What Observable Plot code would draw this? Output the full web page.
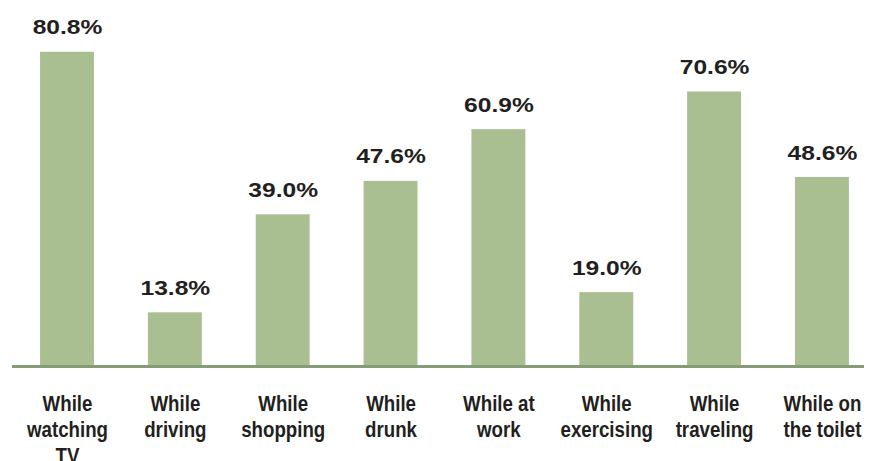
<!DOCTYPE html>
<html><head><meta charset="utf-8">
<script src="https://cdn.jsdelivr.net/npm/d3@7"></script>
<script src="https://cdn.jsdelivr.net/npm/@observablehq/plot@0.6"></script>
<style>body{margin:0;background:#fff;} svg{display:block;}</style>
</head><body><div id="chart"></div>
<script>
const categories = ["While\nwatching\nTV","While\ndriving","While\nshopping","While\ndrunk","While at\nwork","While\nexercising","While\ntraveling","While on\nthe toilet"];
const values = [80.8, 13.8, 39.0, 47.6, 60.9, 19.0, 70.6, 48.6];
const valueLabels = ["80.8%","13.8%","39.0%","47.6%","60.9%","19.0%","70.6%","48.6%"];
const data = categories.map((c,i)=>({cat:c, v:values[i], lab:valueLabels[i]}));
const font = "'Liberation Sans', Arial, sans-serif";
const chart = Plot.plot({
  width: 877, height: 461,
  marginLeft: 12, marginRight: 13, marginTop: 16, marginBottom: 95,
  style: {fontFamily: font, background: "#fff"},
  x: {domain: categories, paddingInner: 0.5, paddingOuter: 0.2, align: 0.65, round: false, axis: null},
  y: {domain: [0, 90], axis: null},
  marks: [
    Plot.barY(data, {x: "cat", y: "v", fill: "#a9bf91"}),
    Plot.ruleY([0], {stroke: "#869c76", strokeWidth: 3}),
    Plot.text(data, {x: "cat", y: "v", text: "lab", lineAnchor: "bottom", dy: -18, fontSize: 20.5, fontWeight: "bold", fill: "#231f20"}),
    Plot.text(data, {x: "cat", y: 0, text: "cat", lineAnchor: "top", dy: 26, fontSize: 22, fontWeight: "bold", fill: "#231f20", lineHeight: 1.18})
  ]
});
document.getElementById("chart").appendChild(chart);
function stretch(group, sx) {
  group.querySelectorAll("text").forEach(t => {
    const tr = t.getAttribute("transform") || "";
    const x = +(t.getAttribute("x") || 0);
    t.setAttribute("transform", tr + ` translate(${x},0) scale(${sx},1) translate(${-x},0)`);
  });
}
const groups = chart.querySelectorAll('g[aria-label="text"]');
stretch(groups[0], 1.2);
stretch(groups[1], 0.85);
</script></body></html>
